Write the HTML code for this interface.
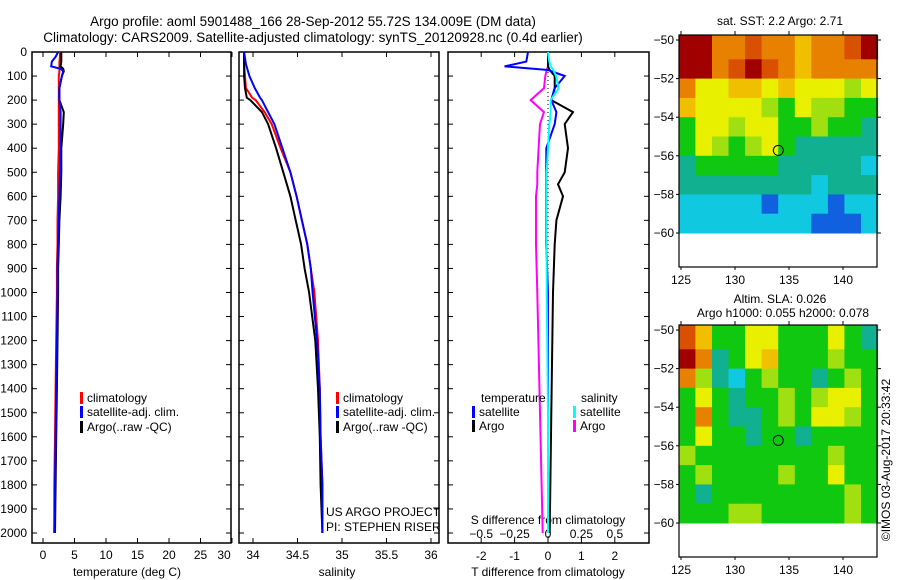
<!DOCTYPE html>
<html><head><meta charset="utf-8"><style>
body{margin:0;background:#fff;}
svg{display:block;font-family:"Liberation Sans",sans-serif;}
text{font-size:12px;fill:#000;}
</style></head><body>
<svg id="c" width="900" height="580" xmlns="http://www.w3.org/2000/svg">
<text x="313" y="26" text-anchor="middle" style="font-size:13.5px">Argo profile: aoml 5901488_166 28-Sep-2012 55.72S 134.009E (DM data)</text>
<text x="313" y="42" text-anchor="middle" style="font-size:13.5px">Climatology: CARS2009. Satellite-adjusted climatology: synTS_20120928.nc (0.4d earlier)</text>
<text x="780" y="25" text-anchor="middle">sat. SST: 2.2 Argo: 2.71</text>
<text x="780" y="303" text-anchor="middle">Altim. SLA: 0.026</text>
<text x="783" y="317" text-anchor="middle">Argo h1000: 0.055 h2000: 0.078</text>
<text transform="translate(890,460) rotate(-90)" text-anchor="middle">©IMOS 03-Aug-2017 20:33:42</text>
<g id="g"></g>
</svg>
<script>
// ---- data ----
const tDepth=[0,20,40,60,70,80,100,150,200,250,300,400,500,600,700,800,900,1000,1200,1400,1600,1800,2000];
const tArgo=[2.9,2.9,2.9,2.8,3.2,3.3,3.0,2.6,2.6,3.3,3.2,2.9,2.9,2.8,2.6,2.5,2.4,2.4,2.3,2.2,2.1,2.0,1.9];
const tClim=[2.7,2.7,2.6,2.6,2.6,2.6,2.5,2.5,2.5,2.5,2.5,2.5,2.4,2.4,2.3,2.3,2.2,2.2,2.1,2.0,1.9,1.8,1.8];
const tSat=[2.4,2.0,1.4,1.3,2.8,3.2,3.0,2.6,2.6,2.8,2.8,2.8,2.7,2.6,2.5,2.4,2.3,2.3,2.2,2.1,2.0,1.9,1.8];
const sDepth=[0,50,100,150,190,200,250,300,400,500,600,700,800,900,1000,1200,1400,1600,1800,2000];
const sArgo=[33.90,33.90,33.90,33.91,33.93,33.97,34.10,34.17,34.26,34.34,34.42,34.48,34.54,34.58,34.63,34.70,34.73,34.75,34.76,34.78];
const sClim=[33.90,33.90,33.91,33.92,33.99,34.03,34.13,34.21,34.31,34.42,34.49,34.55,34.61,34.65,34.69,34.73,34.75,34.76,34.78,34.78];
const sSat=[33.90,33.92,33.96,34.02,34.08,34.10,34.17,34.24,34.33,34.42,34.49,34.55,34.61,34.65,34.67,34.72,34.75,34.76,34.78,34.78];
const dDepth=[0,40,60,75,100,150,200,250,300,400,500,550,600,700,800,1000,1500,2000];
const dTSat=[-0.6,-0.65,-1.3,0.0,0.5,0.2,0.1,0.25,0.2,-0.05,-0.05,-0.05,-0.05,-0.05,-0.05,0.0,0.0,0.0];
const dTArgo=[0.0,0.0,0.0,0.05,0.2,0.2,0.1,0.75,0.5,0.6,0.5,0.3,0.45,0.25,0.2,0.15,0.1,0.05];
const dSSat=[0,0.01,0.02,0.04,0.06,0.08,0.02,0.02,0.01,0.0,-0.01,-0.01,-0.01,-0.01,-0.01,-0.01,0,0];
const dSArgo=[0,0,0,-0.01,-0.02,-0.03,-0.13,-0.03,-0.06,-0.07,-0.08,-0.08,-0.09,-0.09,-0.09,-0.08,-0.06,-0.04];
const depthTicks=[0,100,200,300,400,500,600,700,800,900,1000,1100,1200,1300,1400,1500,1600,1700,1800,1900,2000];
const tTicks=[0,5,10,15,20,25,30];
const sTicks=[34,34.5,35,35.5,36];
const dTTicks=[-2,-1,0,1,2];
const dSTicks=[-0.5,-0.25,0,0.25,0.5];
const mapLons=[125,130,135,140];
const mapLats=[-50,-52,-54,-56,-58,-60];
const sstGrid=[
[9,9,7,7,8,7,7,6,7,7,8,9],
[9,9,7,8,9,8,7,6,7,7,7,7],
[7,5,5,6,6,5,6,5,5,5,4,5],
[6,5,5,5,5,4,3,5,4,4,3,3],
[3,5,5,4,5,5,3,3,4,3,3,2],
[3,5,4,3,4,5,3,2,2,2,2,2],
[2,3,3,3,3,3,2,2,2,2,2,1],
[2,2,2,2,2,2,2,2,1,2,2,2],
[1,1,1,1,1,0,1,1,1,0,1,1],
[1,1,1,1,1,1,1,1,0,0,0,1]];
const slaGrid=[
[8,6,3,3,5,5,3,3,3,5,3,2],
[9,7,2,3,5,6,3,3,3,4,3,3],
[7,4,2,1,3,4,3,3,2,3,4,3],
[3,5,3,2,3,3,4,3,4,5,5,3],
[3,7,3,2,2,3,4,3,5,5,4,3],
[3,5,3,3,2,3,3,2,3,3,3,3],
[4,3,3,3,3,3,3,3,3,4,3,3],
[3,4,3,3,3,3,4,3,3,5,3,3],
[3,2,3,3,3,3,3,3,3,3,4,3],
[3,3,3,4,4,3,3,3,3,3,4,3]];
const floatLon=134.009, floatLat=-55.72;

// ---- scales ----
const g=document.getElementById('g');
const NS='http://www.w3.org/2000/svg';
function mk(tag,at,parent){const e=document.createElementNS(NS,tag);for(const k in at)e.setAttribute(k,at[k]);(parent||g).appendChild(e);return e;}
const Y0=52, Y1=543;
const yD=d=>Y0+d*0.2405;
const xT=t=>43+t*6.3;
const xS=s=>253+(s-34)*89;
const xDT=v=>548+v*33.4;
const xDS=v=>548+v*133.6;

function panel(x0,x1,name){
  const r=mk('rect',{x:x0,y:Y0,width:x1-x0,height:Y1-Y0,fill:'none',stroke:'#000','stroke-width':1.5});
  
  
  depthTicks.forEach(d=>{
    const t=mk('line',{x1:x0,x2:x0+5,y1:yD(d),y2:yD(d),stroke:'#000'});
    
    
    const t2=mk('line',{x1:x1,x2:x1-5,y1:yD(d),y2:yD(d),stroke:'#000'});
    
    
  });
}
panel(32,231,'temperature-panel');
panel(239,439,'salinity-panel');
panel(448,649,'difference-panel');
depthTicks.forEach(d=>{
  const t=mk('text',{x:27,y:yD(d)+4,'text-anchor':'end'});
  t.textContent=d;
  
  
});
function xticks(ticks,fx,y,name,maxX){
  ticks.forEach(v=>{
    const t=mk('text',{x:Math.min(fx(v),maxX||9999),y:y,'text-anchor':'middle'});
    t.textContent=v;
    
    
    const l=mk('line',{x1:fx(v),x2:fx(v),y1:Y1,y2:Y1-5,stroke:'#000'});
    
    
    const l2=mk('line',{x1:fx(v),x2:fx(v),y1:Y0,y2:Y0+5,stroke:'#000'});
    
    
  });
}
xticks(tTicks,xT,559,'temperature-tick-label',224);
xticks(sTicks,xS,559,'salinity-tick-label');
xticks(dTTicks,xDT,560,'t-diff-tick-label');
dSTicks.forEach(v=>{
  const t=mk('text',{x:xDS(v),y:538,'text-anchor':'middle'});
  t.textContent=v===0?'0':String(v).replace('-','\u2212');
  
  
});
function lbl(x,y,s,name,anchor){const t=mk('text',{x:x,y:y,'text-anchor':anchor||'start'});t.textContent=s;return t;}
lbl(127,576,'temperature (deg C)','temperature-axis-title','middle');
lbl(337,576,'salinity','salinity-axis-title','middle');
lbl(548,576,'T difference from climatology','t-diff-axis-title','middle');
lbl(548,524,'S difference from climatology','s-diff-axis-title','middle');
lbl(326,516,'US ARGO PROJECT','project-label');
lbl(326,531,'PI: STEPHEN RISER','pi-label');

function line(xs,ds,fx,color,w,name){
  const pts=xs.map((v,i)=>fx(v).toFixed(1)+','+yD(ds[i]).toFixed(1)).join(' ');
  const p=mk('polyline',{points:pts,fill:'none',stroke:color,'stroke-width':w});
  
  
}
line(tClim,tDepth,xT,'#f00',2,'temperature-climatology-line');
line(tArgo,tDepth,xT,'#000',2,'temperature-argo-line');
line(tSat,tDepth,xT,'#00f',2,'temperature-satellite-line');
line(sClim,sDepth,xS,'#f00',2,'salinity-climatology-line');
line(sArgo,sDepth,xS,'#000',2,'salinity-argo-line');
line(sSat,sDepth,xS,'#00f',2,'salinity-satellite-line');
const zl=mk('line',{x1:xDT(0),x2:xDT(0),y1:Y0,y2:Y1,stroke:'#000','stroke-dasharray':'1,3'});


line(dSArgo,dDepth,xDS,'#f0f',2,'s-diff-argo-line');
line(dTArgo,dDepth,xDT,'#000',2,'t-diff-argo-line');
line(dTSat,dDepth,xDT,'#00f',2,'t-diff-satellite-line');
line(dSSat,dDepth,xDS,'#0ff',2,'s-diff-satellite-line');

function leg(x,y,color,s,name){
  const r=mk('rect',{x:x,y:y-10,width:3,height:12,fill:color});
  
  
  lbl(x+7,y,s,name);
}
leg(80,402,'#f00','climatology','legend-climatology');
leg(80,416,'#00f','satellite-adj. clim.','legend-satellite');
leg(80,431,'#000','Argo(..raw -QC)','legend-argo');
leg(336,402,'#f00','climatology','legend-climatology-2');
leg(336,416,'#00f','satellite-adj. clim.','legend-satellite-2');
leg(336,431,'#000','Argo(..raw -QC)','legend-argo-2');
lbl(481,402,'temperature','legend-temperature-heading');
lbl(581,402,'salinity','legend-salinity-heading');
leg(472,416,'#00f','satellite','legend-t-satellite');
leg(472,430,'#000','Argo','legend-t-argo');
leg(573,416,'#0ff','satellite','legend-s-satellite');
leg(573,430,'#f0f','Argo','legend-s-argo');

// ---- maps ----
const cmap=['#1060e0','#10c8e0','#10b090','#10c810','#a0e010','#e8f000','#f0c000','#e88000','#d85000','#a00000'];
function map(top,grid,name){
  const L=679,R=877,B=top+232;
  const mx=lon=>681+(lon-125)*10.8;
  const my=lat=>top+5+(-50-lat)*19.3;
  const rows=grid.length, cols=grid[0].length;
  const lon0=124.8, lon1=143.2;
  const cw=(mx(lon1)-mx(lon0))/cols;
  for(let r=0;r<rows;r++)for(let c=0;c<cols;c++){
    const y0=(r===0?top:my(-50-r)), y1=my(-51-r);
    const cell=mk('rect',{x:(mx(lon0)+c*cw).toFixed(1),y:y0.toFixed(1),width:(cw+0.5).toFixed(1),height:(y1-y0+0.5).toFixed(1),fill:cmap[grid[r][c]]});
    
    
  }
  const b=mk('rect',{x:L,y:top,width:R-L,height:B-top,fill:'none',stroke:'#000','stroke-width':1.2});
  
  
  mapLats.forEach(v=>{
    lbl(674,my(v)+4,String(v).replace('-','\u2212'),name+'-lat-label','end');
    const t=mk('line',{x1:R,x2:R+4,y1:my(v),y2:my(v),stroke:'#000'});
    
    
    const t2=mk('line',{x1:L,x2:L-3,y1:my(v),y2:my(v),stroke:'#000'});
    
    
  });
  mapLons.forEach(v=>{
    lbl(mx(v),B+17,String(v),name+'-lon-label','middle');
    const t=mk('line',{x1:mx(v),x2:mx(v),y1:top,y2:top-4,stroke:'#000'});
    
    
    const t2=mk('line',{x1:mx(v),x2:mx(v),y1:B,y2:B+3,stroke:'#000'});
    
    
  });
  const ci=mk('circle',{cx:mx(floatLon),cy:my(floatLat),r:5,fill:'none',stroke:'#000','stroke-width':1});
  
  
}
map(35,sstGrid,'sst-map');
map(325,slaGrid,'sla-map');
</script>
</body></html>
